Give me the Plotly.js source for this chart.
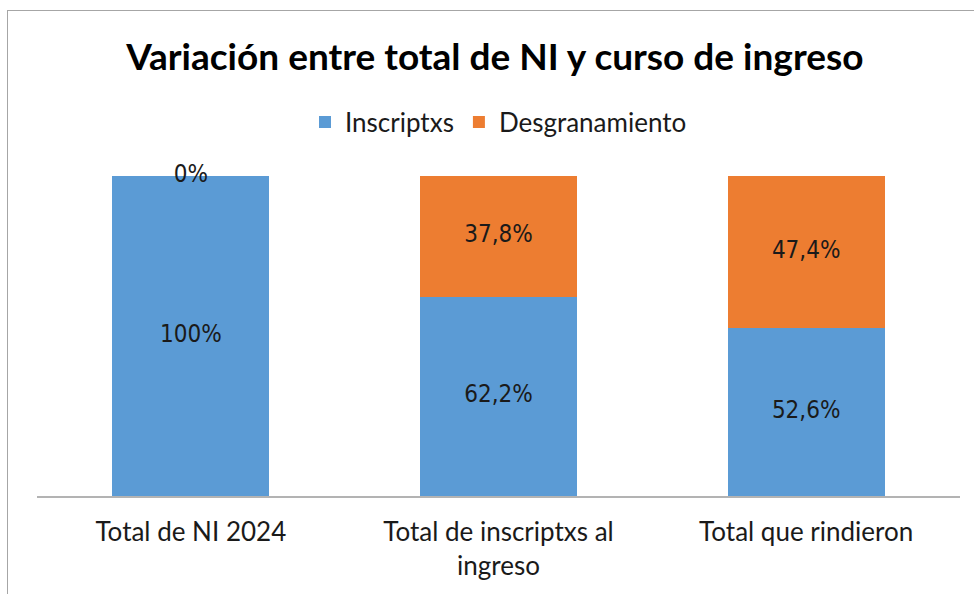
<!DOCTYPE html>
<html>
<head>
<meta charset="utf-8">
<script src="https://cdn.plot.ly/plotly-3.0.1.min.js"></script>
<style>
  html, body { margin: 0; padding: 0; background: #fff; }
  #frame { position: absolute; left: 7px; top: 10px; width: 980px; height: 600px;
           border-left: 1px solid #a6a6a6; border-top: 1px solid #a6a6a6; }
  #chart { position: absolute; left: 0; top: 0; width: 974px; height: 594px; }
</style>
</head>
<body>
<div id="frame"></div>
<div id="chart"></div>
<script>
const categories = ["Total de NI 2024", "Total de inscriptxs al<br>ingreso", "Total que rindieron"];
const inscriptxs = [1.00, 0.622, 0.526];
const desgranamiento = [0.00, 0.378, 0.474];
const seriesNames = ["Inscriptxs", "Desgranamiento"];
const seriesColors = ["#5B9BD5", "#ED7D31"];

function fmt(v) {
  const p = Math.round(v * 1000) / 10;
  return (Number.isInteger(p) ? String(p) : p.toFixed(1).replace('.', ',')) + '%';
}

const labelFont = { family: "DejaVu Sans Condensed, DejaVu Sans, sans-serif", size: 24, color: "#1a1a1a" };
const calibri = "Lato, Carlito, Calibri, sans-serif";

const traces = [
  { type: 'bar', name: seriesNames[0], x: categories, y: inscriptxs,
    marker: { color: seriesColors[0] }, hoverinfo: 'skip' },
  { type: 'bar', name: seriesNames[1], x: categories, y: desgranamiento,
    marker: { color: seriesColors[1] }, hoverinfo: 'skip' },
  { type: 'scatter', mode: 'text', x: categories, y: inscriptxs.map(v => v / 2),
    text: inscriptxs.map(fmt), textfont: labelFont, showlegend: false, hoverinfo: 'skip', cliponaxis: false },
  { type: 'scatter', mode: 'text', x: categories, y: desgranamiento.map((v, i) => inscriptxs[i] + v / 2),
    text: desgranamiento.map(fmt), textfont: labelFont, showlegend: false, hoverinfo: 'skip', cliponaxis: false }
];

const layout = {
  width: 974, height: 594,
  paper_bgcolor: 'rgba(0,0,0,0)', plot_bgcolor: 'rgba(0,0,0,0)',
  margin: { l: 37, r: 14, t: 176, b: 98 },
  barmode: 'stack', bargap: 0.49,
  title: { text: "<b>Variación entre total de NI y curso de ingreso</b>",
           font: { family: calibri, size: 37, color: "#000" },
           x: 0.508, xanchor: 'center', y: 1 - 57 / 594, yanchor: 'middle', yref: 'container' },
  legend: { orientation: 'h', traceorder: 'normal', x: 0.50, xanchor: 'center', y: 1 - 122 / 594, yanchor: 'middle', yref: 'container',
            font: { family: calibri, size: 26, color: "#1a1a1a" }, itemwidth: 30, tracegroupgap: 0 },
  xaxis: { showline: true, linecolor: '#b3b3b3', linewidth: 1.5, ticks: '', showgrid: false,
           tickfont: { family: calibri, size: 26, color: "#1a1a1a" }, ticklabelstandoff: 12, fixedrange: true },
  yaxis: { range: [0, 1], visible: false, showgrid: false, zeroline: false, fixedrange: true },
  showlegend: true
};

Plotly.newPlot('chart', traces, layout, { displayModeBar: false, staticPlot: true });
</script>
</body>
</html>
